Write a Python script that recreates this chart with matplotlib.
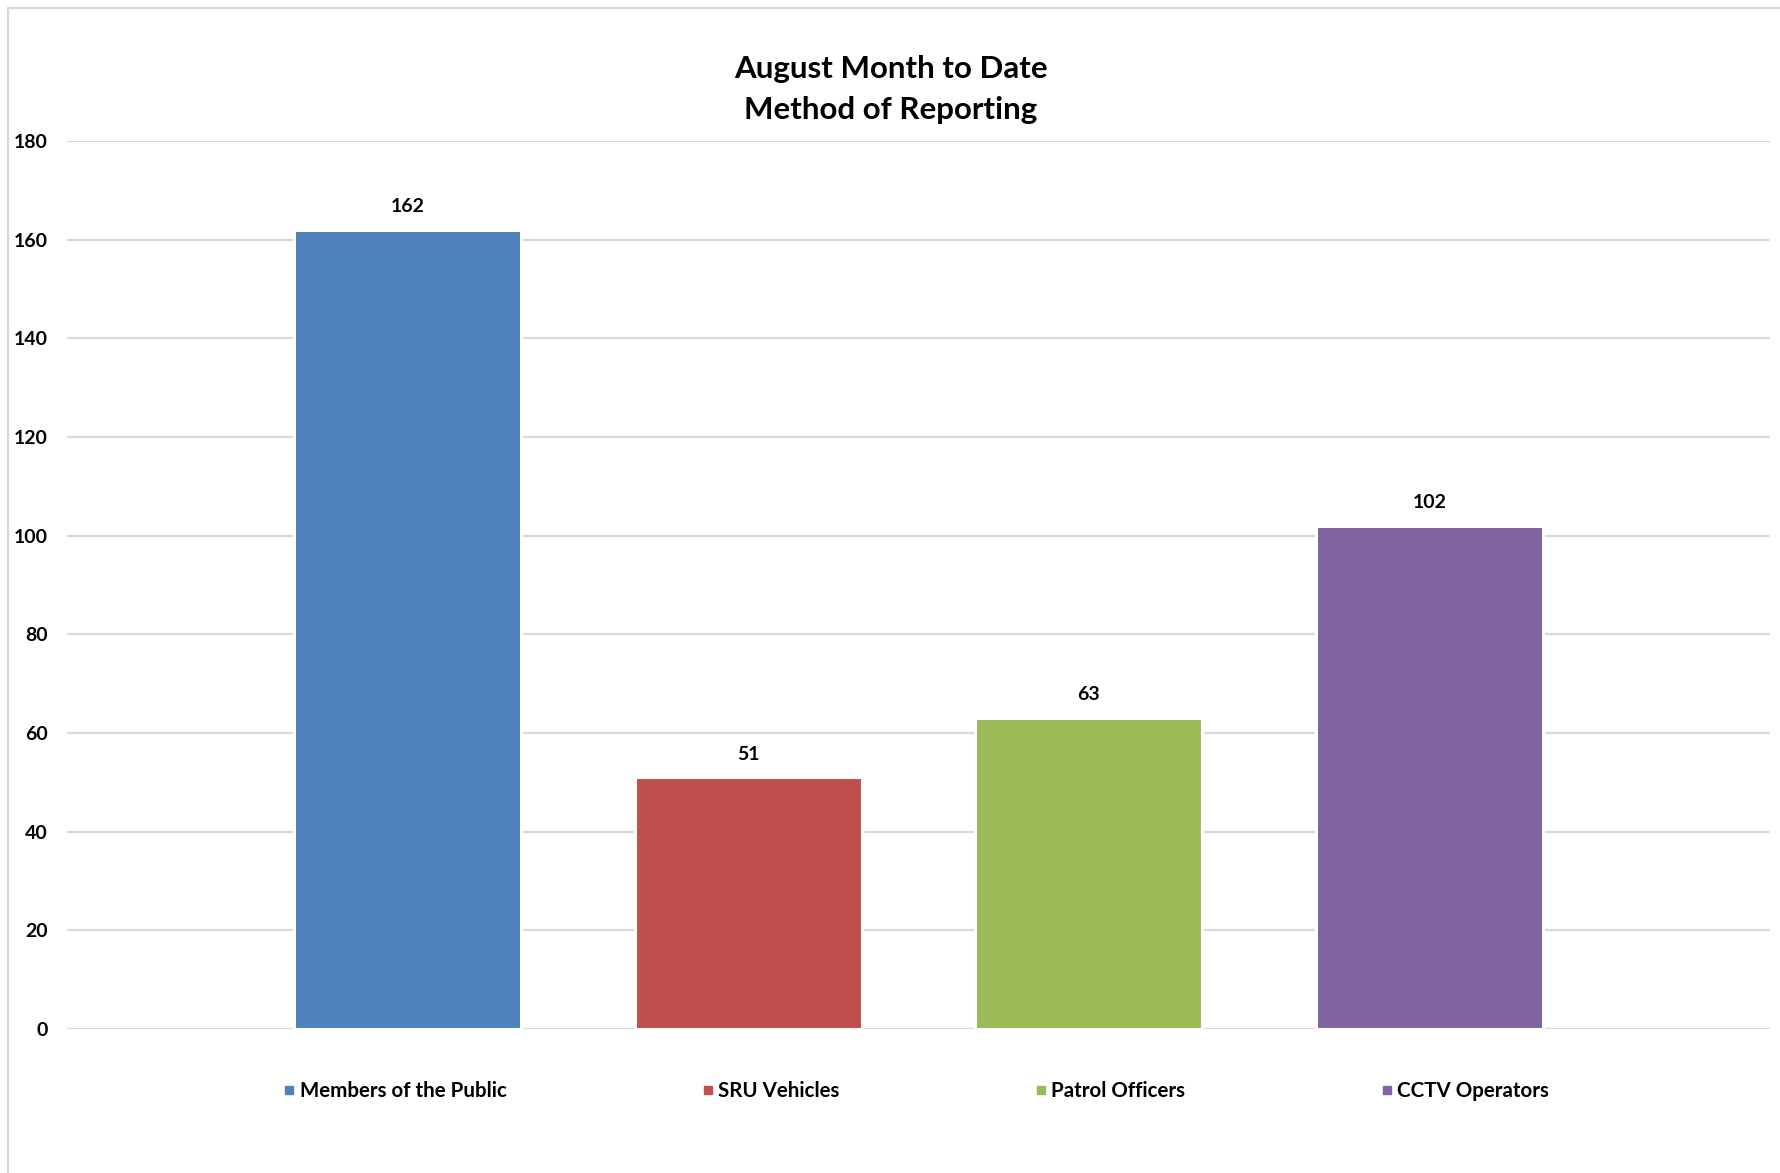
import matplotlib
matplotlib.use("Agg")
import matplotlib.pyplot as plt
from matplotlib.patches import Rectangle
from matplotlib.lines import Line2D

plt.rcParams['font.family'] = ['Lato', 'DejaVu Sans']
plt.rcParams['font.weight'] = 'bold'

categories = ["Members of the Public", "SRU Vehicles", "Patrol Officers", "CCTV Operators"]
values = [162, 51, 63, 102]
colors = ["#4F81BD", "#C0504D", "#9BBB59", "#8064A2"]
yticks = [0, 20, 40, 60, 80, 100, 120, 140, 160, 180]

W, H = 1780, 1173
fig = plt.figure(figsize=(W / 100, H / 100), dpi=100)
ax = fig.add_axes([67 / W, 1 - 1029 / H, (1770 - 67) / W, (1029 - 141) / H])

# chart area border (left and top only visible)
fig.patches.append(Rectangle((8 / W, -0.5), 1.5, 1 - 8 / H + 0.5, transform=fig.transFigure,
                             fill=False, edgecolor="#D9D9D9", linewidth=1.6, zorder=0))

x = [1, 2, 3, 4]
bars = ax.bar(x, values, width=0.667, color=colors, edgecolor="white", linewidth=2.2, zorder=3)
for xi, v in zip(x, values):
    ax.text(xi, v + 3.0, str(v), ha="center", va="bottom", fontsize=14, fontweight="bold")

ax.set_xlim(0, 5)
ax.set_ylim(0, 180)
ax.set_yticks(yticks)
ax.set_xticks([])
ax.yaxis.grid(True, color="#D9D9D9", linewidth=1.6, zorder=0)
ax.set_axisbelow(True)
ax.tick_params(axis="y", length=0, pad=14, labelsize=14)
for s in ax.spines.values():
    s.set_visible(False)

fig.text(891 / W, 1 - 69 / H, "August Month to Date", ha="center", va="center",
         fontsize=22.5, fontweight="bold")
fig.text(891 / W, 1 - 110 / H, "Method of Reporting", ha="center", va="center",
         fontsize=22.5, fontweight="bold")

handles = [Line2D([], [], marker="s", linestyle="none", markersize=6, color=c) for c in colors]
fig.legend(handles, categories, loc="center", bbox_to_anchor=(917 / W, 1 - 1091 / H), ncol=4,
           frameon=False, fontsize=14.8, handlelength=0.4, handletextpad=0.3, columnspacing=9.6)

fig.savefig("out.png", dpi=100, facecolor="white")
